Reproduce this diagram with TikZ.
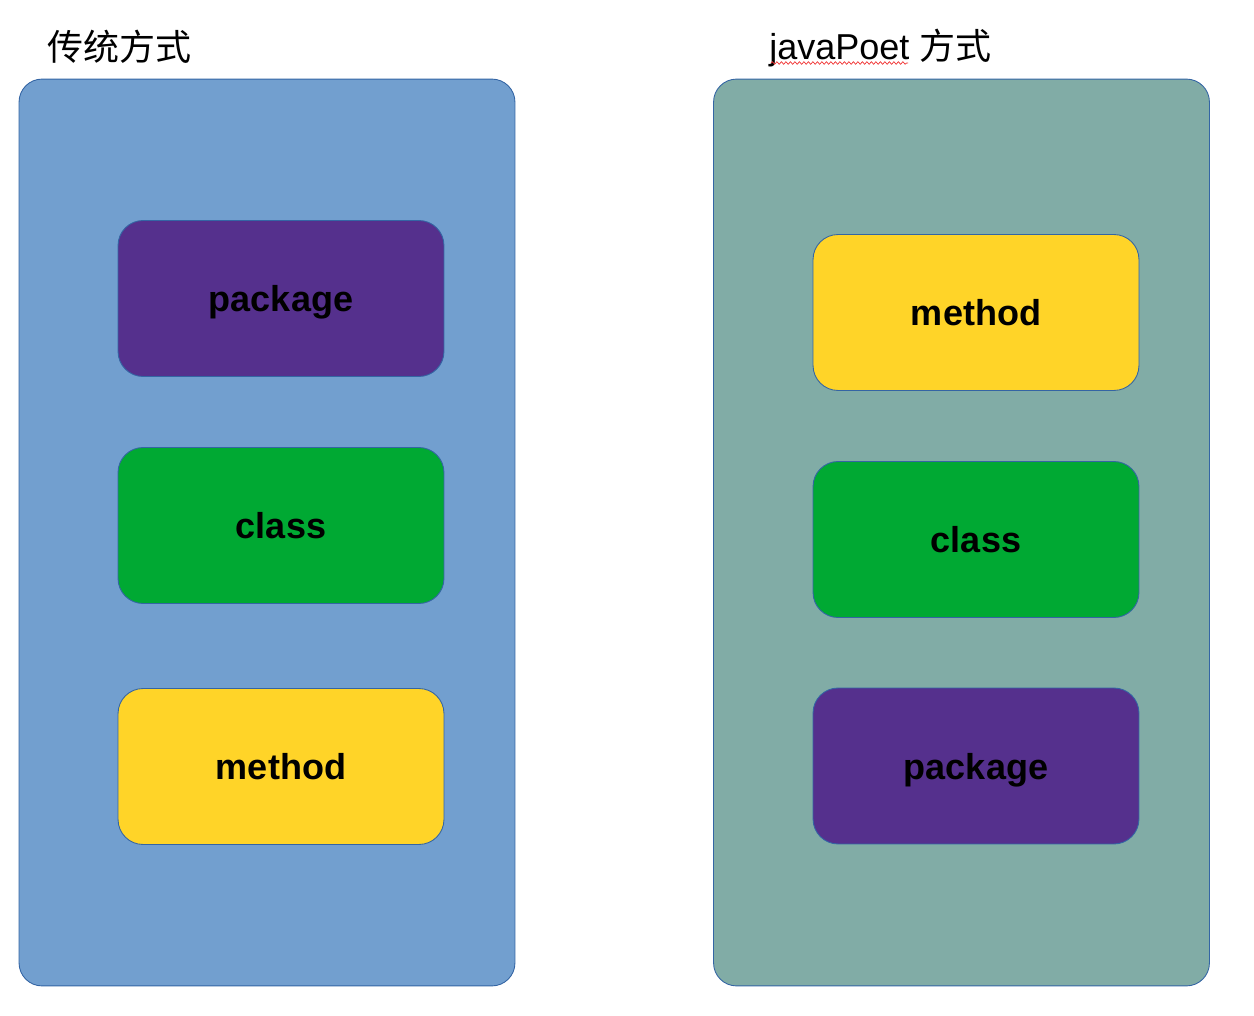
\documentclass[tikz,border=0pt]{standalone}
\usepackage{fontspec}
\setmainfont{Liberation Sans}
\setsansfont{Liberation Sans}
\newfontfamily\cjk{Noto Sans CJK SC}
\usepackage{xcolor}
\usepackage{tikz}
\usetikzlibrary{positioning, decorations.pathmorphing}

\definecolor{panelblue}{HTML}{729FCF}
\definecolor{panelteal}{HTML}{81ACA6}
\definecolor{edgeblue}{HTML}{3465A4}
\definecolor{pkgpurple}{HTML}{55308D}
\definecolor{clsgreen}{HTML}{00A933}
\definecolor{mthyellow}{HTML}{FFD428}
\definecolor{spellred}{HTML}{F03030}

\begin{document}
\begin{tikzpicture}[
    x=0.02cm, y=-0.02cm,
    panel/.style={draw=edgeblue, line width=0.5pt, rounded corners=0.46cm, inner sep=0pt, outer sep=0pt,
      minimum width=9.92cm, minimum height=18.14cm},
    block/.style={draw=edgeblue, line width=0.5pt, rounded corners=0.5cm, inner sep=0pt, outer sep=0pt,
      minimum width=6.52cm, minimum height=3.12cm, text height=15.3pt, text depth=0pt,
      font=\fontsize{20.5pt}{24pt}\selectfont\bfseries},
    title/.style={anchor=west, inner sep=0pt, font=\fontsize{20.5pt}{24pt}\selectfont},
    wavy/.style={draw=spellred, line width=0.4pt, decorate,
      decoration={snake, segment length=0.09cm, amplitude=0.025cm}}
  ]
    \useasboundingbox (0,0) rectangle (1254,1016);
    % panels
    \node[panel, fill=panelblue] (old) at (267,532.5) {};
    \node[panel, fill=panelteal] (poet) at (961.5,532.5) {};
    \node[title] (oldtitle) at (47,47) {\cjk 传统方式};
    \node[title] (poettitle) at (769,48) {javaPoet {\cjk 方式}};
    \coordinate (wavyA) at (771,63);
    \coordinate (wavyB) at (908,63);
    \draw[wavy] (wavyA) -- (wavyB);
    % left column
    \node[block, fill=pkgpurple] (oldpkg) at (281,298.5) {package};
    \node[block, fill=clsgreen] (oldcls) at (281,525.5) {class};
    \node[block, fill=mthyellow] (oldmth) at (281,766.5) {method};
    % right column
    \node[block, fill=mthyellow] (poetmth) at (976,312.5) {method};
    \node[block, fill=clsgreen] (poetcls) at (976,539.5) {class};
    \node[block, fill=pkgpurple] (poetpkg) at (976,766) {package};
  \end{tikzpicture}
\end{document}
